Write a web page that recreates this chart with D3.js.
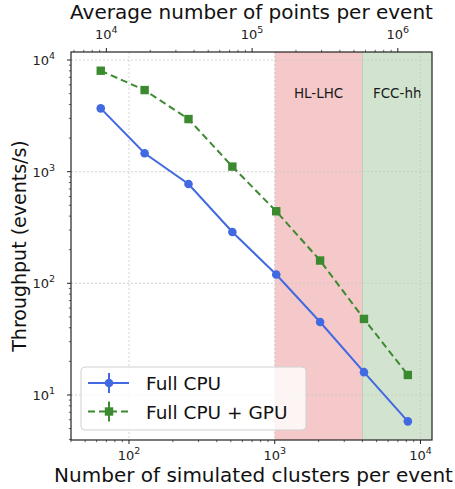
<!DOCTYPE html>
<html>
<head>
<meta charset="utf-8">
<script src="https://cdn.jsdelivr.net/npm/d3@7"></script>
<style>
  body { margin: 0; background: #fff; }
  svg { font-family: "DejaVu Sans", sans-serif; }
</style>
</head>
<body>
<svg id="chart" width="455" height="489"></svg>
<script>
// clusters per event
const clusters = [64, 128, 256, 512, 1024, 2048, 4096, 8192];
const cpuThroughput = [3690, 1460, 775, 288, 120, 45, 16, 5.8];
const gpuThroughput = [8020, 5380, 2960, 1110, 442, 160, 48, 15.1];
const pointsPerCluster = 143; // top axis = clusters * this
const regions = [
  {label: "HL-LHC", from: 1000, to: 4000, fill: "#f5c9c9"},
  {label: "FCC-hh", from: 4000, to: 12000, fill: "#d2e4cf"}
];
const xTicks = [1e2, 1e3, 1e4];
const topTicks = [1e4, 1e5, 1e6];
const yTicks = [1e1, 1e2, 1e3, 1e4];

const svg = d3.select("#chart");
const m = {left: 71, right: 432, top: 52, bottom: 440};

const x = d3.scaleLog().domain([40, 12000]).range([m.left, m.right]);
const xTop = d3.scaleLog().domain([40 * pointsPerCluster, 12000 * pointsPerCluster]).range([m.left, m.right]);
const y = d3.scaleLog().domain([3.95, 11800]).range([m.bottom, m.top]);

function minorTicks(scale) {
  const [a, b] = scale.domain();
  const out = [];
  for (let e = Math.floor(Math.log10(a)); e <= Math.ceil(Math.log10(b)); e++) {
    for (let k = 2; k <= 9; k++) {
      const v = k * Math.pow(10, e);
      if (v >= a && v <= b) out.push(v);
    }
  }
  return out;
}

function powLabel(sel, v) {
  const e = Math.round(Math.log10(v));
  sel.append("tspan").text("10");
  sel.append("tspan").attr("dy", -6).attr("font-size", 9.5).text(e);
}

// shaded regions
svg.selectAll(".region").data(regions).enter().append("rect")
  .attr("x", d => x(d.from))
  .attr("width", d => x(Math.min(d.to, 12000)) - x(d.from))
  .attr("y", m.top).attr("height", m.bottom - m.top)
  .attr("fill", d => d.fill);
svg.append("line")
  .attr("x1", x(4000)).attr("x2", x(4000)).attr("y1", m.top).attr("y2", m.bottom)
  .attr("stroke", "#b9c7b5").attr("stroke-width", 0.8);

svg.selectAll(".regionLabel").data(regions).enter().append("text")
  .attr("x", d => (x(d.from) + x(Math.min(d.to, 12000))) / 2)
  .attr("y", 98)
  .attr("text-anchor", "middle")
  .attr("font-size", 13.5)
  .attr("fill", "#1a1a1a")
  .text(d => d.label);

// grid
const grid = svg.append("g").attr("stroke", "#c8c8c8").attr("stroke-width", 0.8).attr("stroke-dasharray", "2,2");
grid.selectAll(".gx").data(xTicks).enter().append("line")
  .attr("x1", d => x(d)).attr("x2", d => x(d)).attr("y1", m.top).attr("y2", m.bottom);
grid.selectAll(".gy").data(yTicks).enter().append("line")
  .attr("y1", d => y(d)).attr("y2", d => y(d)).attr("x1", m.left).attr("x2", m.right);

// series
const series = [
  {name: "Full CPU", values: cpuThroughput, color: "#4169e1", dash: null, marker: "circle"},
  {name: "Full CPU + GPU", values: gpuThroughput, color: "#3b8a2f", dash: "7,4", marker: "square"}
];
const line = d3.line().x(d => x(d[0])).y(d => y(d[1]));

function drawMarker(g, type, cx, cy, color) {
  if (type === "circle") {
    g.append("circle").attr("cx", cx).attr("cy", cy).attr("r", 4.3).attr("fill", color);
  } else {
    g.append("rect").attr("x", cx - 4.2).attr("y", cy - 4.2).attr("width", 8.4).attr("height", 8.4).attr("fill", color);
  }
}

series.forEach(s => {
  const pts = clusters.map((c, i) => [c, s.values[i]]);
  svg.append("path").datum(pts)
    .attr("d", line)
    .attr("fill", "none")
    .attr("stroke", s.color)
    .attr("stroke-width", 2)
    .attr("stroke-dasharray", s.dash);
  const g = svg.append("g");
  pts.forEach(p => drawMarker(g, s.marker, x(p[0]), y(p[1]), s.color));
});

// frame
svg.append("rect").attr("x", m.left).attr("y", m.top)
  .attr("width", m.right - m.left).attr("height", m.bottom - m.top)
  .attr("fill", "none").attr("stroke", "#222").attr("stroke-width", 1.2);

const axisG = svg.append("g").attr("stroke", "#222");
// bottom ticks
axisG.selectAll(".bmaj").data(xTicks).enter().append("line")
  .attr("x1", d => x(d)).attr("x2", d => x(d)).attr("y1", m.bottom).attr("y2", m.bottom + 4).attr("stroke-width", 1);
axisG.selectAll(".bmin").data(minorTicks(x)).enter().append("line")
  .attr("x1", d => x(d)).attr("x2", d => x(d)).attr("y1", m.bottom).attr("y2", m.bottom + 2.2).attr("stroke-width", 0.7);
// top ticks
axisG.selectAll(".tmaj").data(topTicks).enter().append("line")
  .attr("x1", d => xTop(d)).attr("x2", d => xTop(d)).attr("y1", m.top).attr("y2", m.top - 4).attr("stroke-width", 1);
axisG.selectAll(".tmin").data(minorTicks(xTop)).enter().append("line")
  .attr("x1", d => xTop(d)).attr("x2", d => xTop(d)).attr("y1", m.top).attr("y2", m.top - 2.2).attr("stroke-width", 0.7);
// left ticks
axisG.selectAll(".lmaj").data(yTicks).enter().append("line")
  .attr("y1", d => y(d)).attr("y2", d => y(d)).attr("x1", m.left).attr("x2", m.left - 4).attr("stroke-width", 1);
axisG.selectAll(".lmin").data(minorTicks(y)).enter().append("line")
  .attr("y1", d => y(d)).attr("y2", d => y(d)).attr("x1", m.left).attr("x2", m.left - 2.2).attr("stroke-width", 0.7);

// tick labels
xTicks.forEach(v => {
  svg.append("text").attr("x", x(v)).attr("y", 460).attr("text-anchor", "middle")
    .attr("font-size", 13).attr("fill", "#222").call(powLabel, v);
});
topTicks.forEach(v => {
  svg.append("text").attr("x", xTop(v)).attr("y", 39).attr("text-anchor", "middle")
    .attr("font-size", 13).attr("fill", "#222").call(powLabel, v);
});
yTicks.forEach(v => {
  svg.append("text").attr("x", 55).attr("y", y(v) + 5).attr("text-anchor", "end")
    .attr("font-size", 13).attr("fill", "#222").call(powLabel, v);
});

// axis titles
svg.append("text").attr("x", (m.left + m.right) / 2 + 2).attr("y", 482)
  .attr("text-anchor", "middle").attr("font-size", 20).attr("fill", "#111")
  .text("Number of simulated clusters per event");
svg.append("text").attr("x", (m.left + m.right) / 2).attr("y", 19)
  .attr("text-anchor", "middle").attr("font-size", 20).attr("fill", "#111")
  .text("Average number of points per event");
svg.append("text")
  .attr("transform", `translate(26,${(m.top + m.bottom) / 2}) rotate(-90)`)
  .attr("text-anchor", "middle").attr("font-size", 19).attr("fill", "#111")
  .text("Throughput (events/s)");

// legend
const leg = svg.append("g");
leg.append("rect").attr("x", 81).attr("y", 367).attr("width", 225).attr("height", 63)
  .attr("rx", 4).attr("fill", "#fff").attr("fill-opacity", 0.8)
  .attr("stroke", "#d0d0d0").attr("stroke-width", 1);
series.forEach((s, i) => {
  const ly = 383 + i * 28.5;
  leg.append("line").attr("x1", 88).attr("x2", 129).attr("y1", ly).attr("y2", ly)
    .attr("stroke", s.color).attr("stroke-width", 2).attr("stroke-dasharray", s.dash);
  leg.append("line").attr("x1", 109).attr("x2", 109).attr("y1", ly - 10).attr("y2", ly + 10)
    .attr("stroke", s.color).attr("stroke-width", 2);
  drawMarker(leg, s.marker, 109, ly, s.color);
  leg.append("text").attr("x", 146).attr("y", ly + 7)
    .attr("font-size", 18.5).attr("fill", "#111").text(s.name);
});
</script>
</body>
</html>
